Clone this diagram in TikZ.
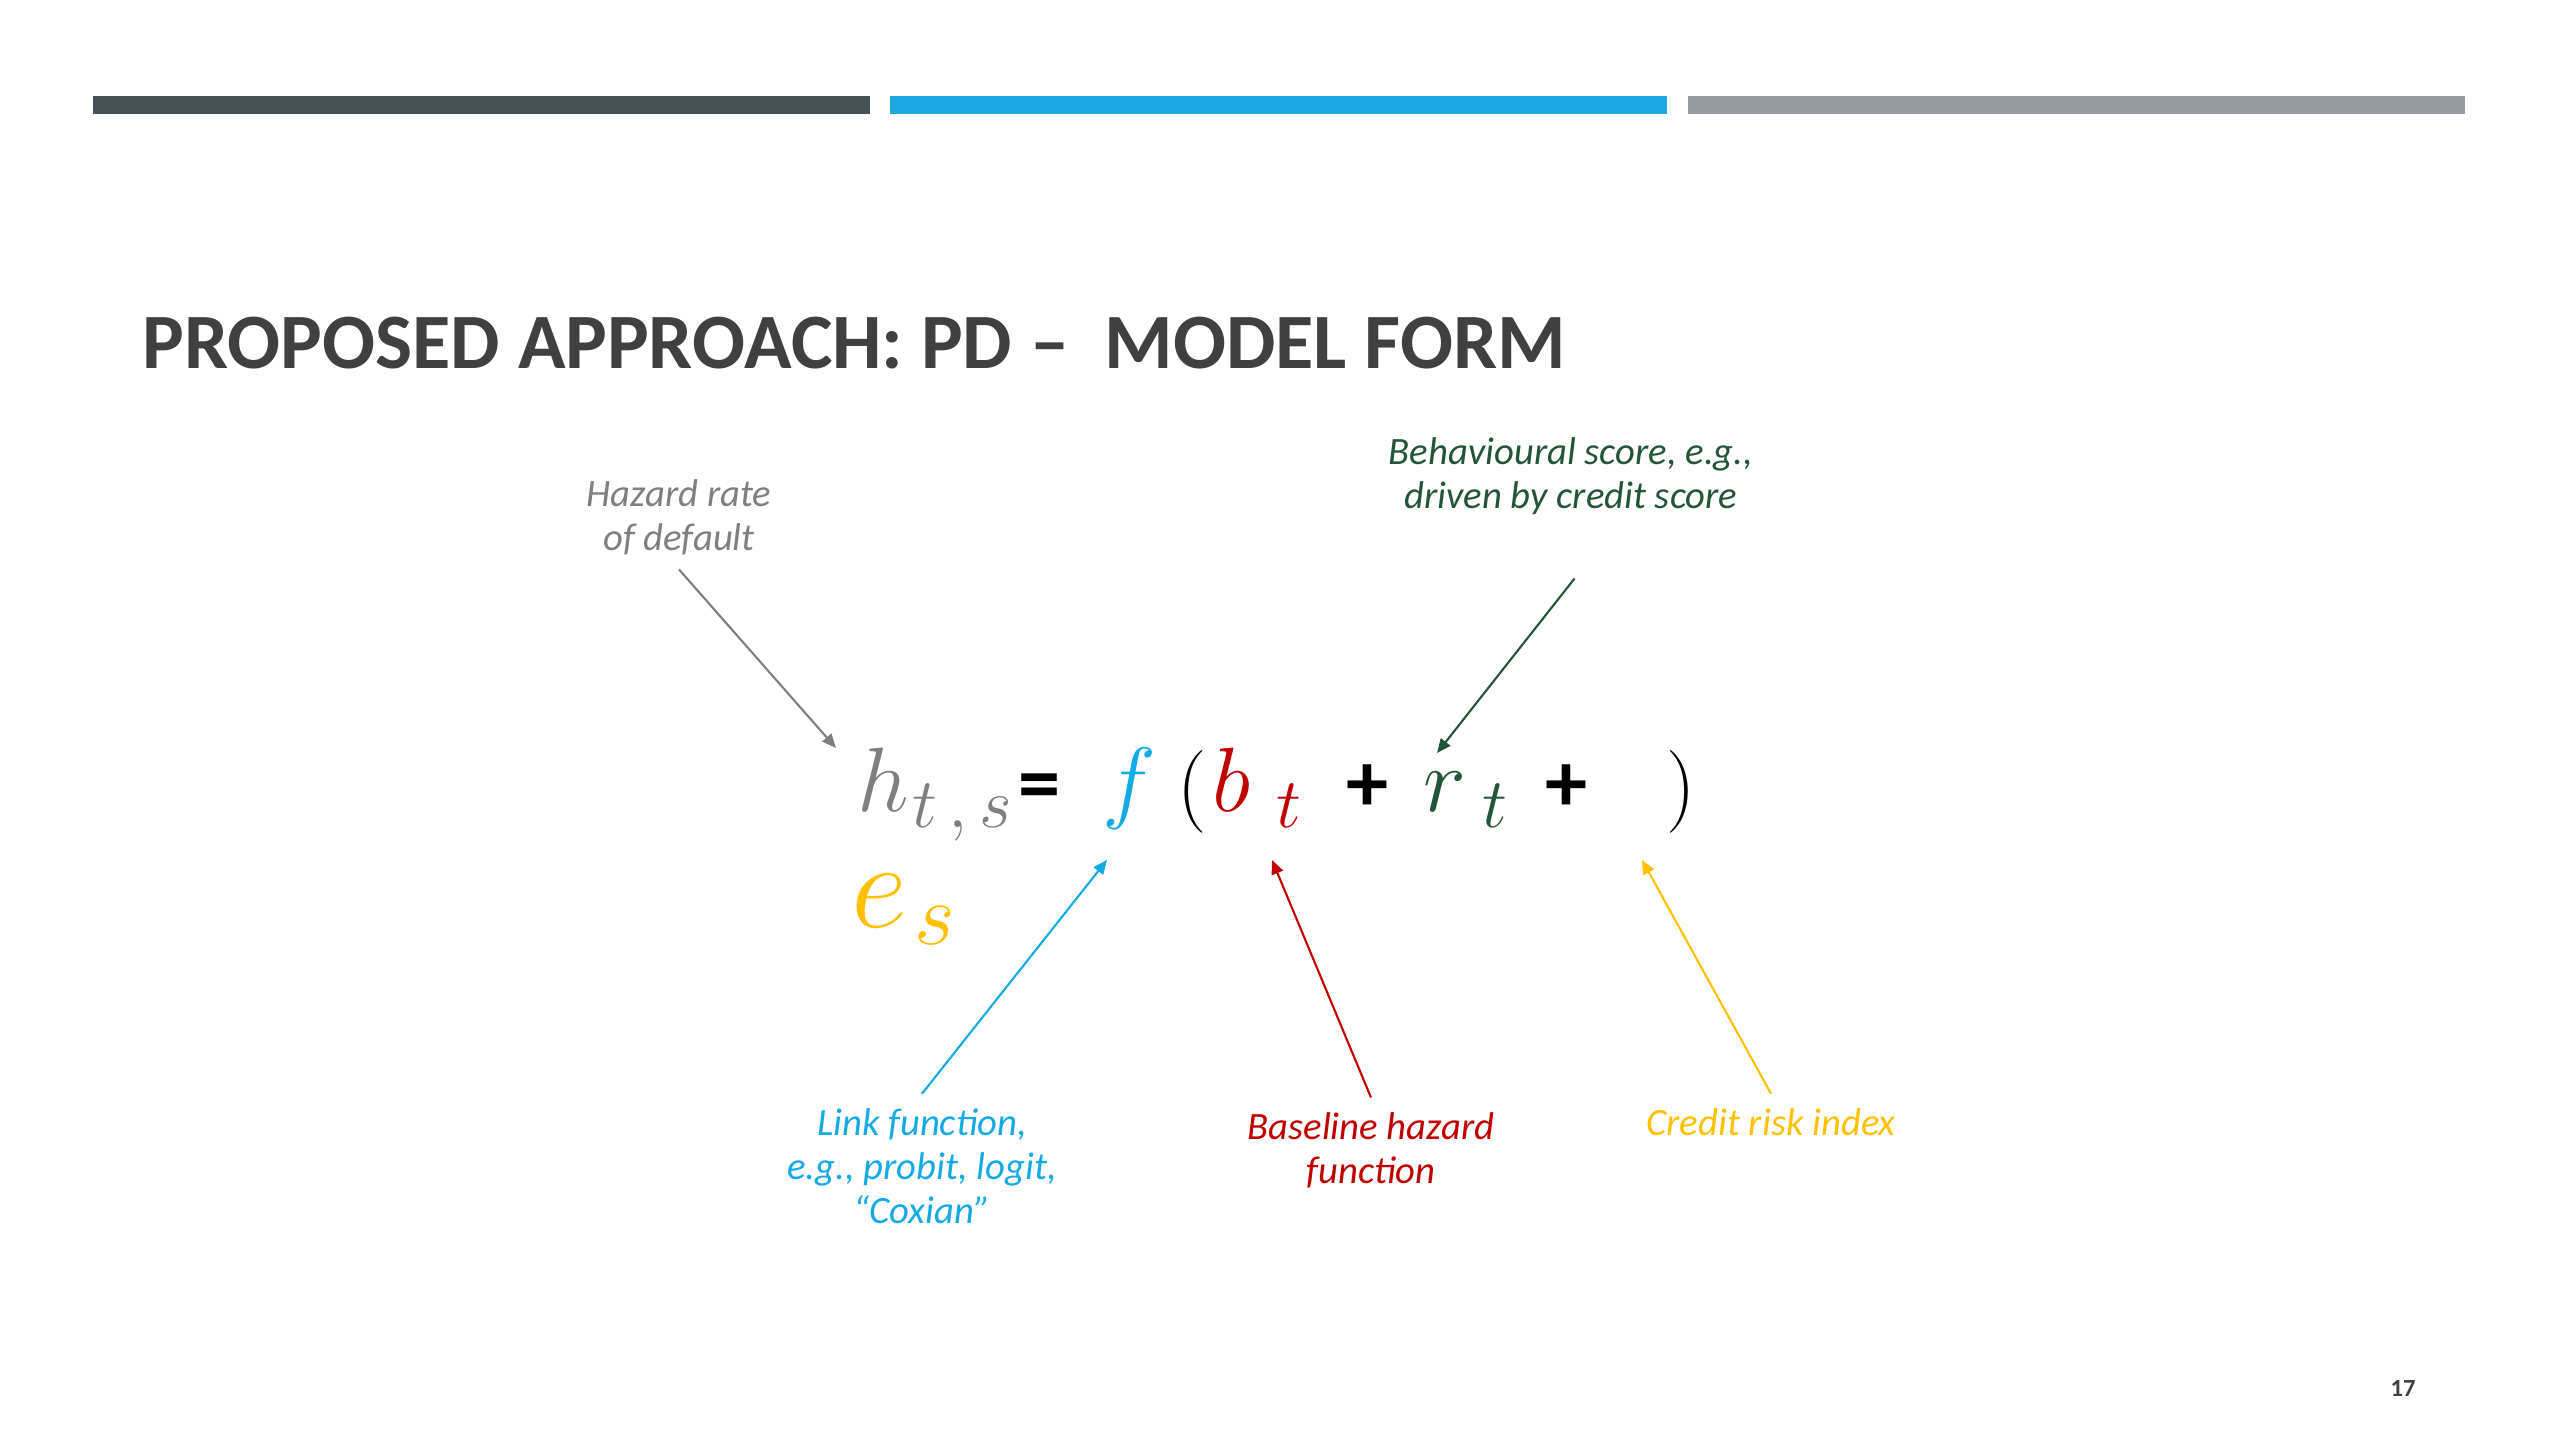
\documentclass[tikz,border=0pt]{standalone}
\usepackage{fix-cm}
\usepackage{fontspec}
\usepackage{tikz}
\usetikzlibrary{arrows.meta}
\newfontfamily\slidefont{Carlito}
\definecolor{cBarDark}{RGB}{69,82,86}
\definecolor{cBarBlue}{RGB}{28,169,225}
\definecolor{cBarGray}{RGB}{150,156,162}
\definecolor{cTitle}{RGB}{64,64,64}
\definecolor{cHazard}{RGB}{127,127,127}
\definecolor{cLink}{RGB}{20,170,230}
\definecolor{cBase}{RGB}{192,0,0}
\definecolor{cBehav}{RGB}{35,85,55}
\definecolor{cIndex}{RGB}{255,192,0}
\tikzset{
	slidetitle/.style={anchor=base west, inner sep=0pt, text=cTitle, font=\slidefont\bfseries\fontsize{22.3}{27}\selectfont},
	note/.style={align=center, inner sep=4pt, font=\slidefont\itshape\fontsize{11}{12.5}\selectfont},
	ptr/.style={-{Triangle[length=4pt, width=3.4pt]}, line width=0.6pt},
	pagenum/.style={inner sep=0pt, text=cTitle, font=\slidefont\bfseries\fontsize{7}{8}\selectfont},
	% formula pieces
	sym/.style={inner sep=0pt, anchor=base, font=\fontsize{26}{30}\selectfont},
	sub/.style={inner sep=0pt, anchor=base, font=\fontsize{20}{24}\selectfont},
	op/.style={inner sep=0pt, anchor=base, font=\slidefont\bfseries\fontsize{24}{28}\selectfont},
	paren/.style={inner sep=0pt, anchor=base, font=\fontsize{23.5}{28}\selectfont},
}
\begin{document}
\begin{tikzpicture}[x=0.01cm, y=-0.01cm]
	\useasboundingbox (0,0) rectangle (2560,1440);
	\fill[cBarDark] (93,96) rectangle (870,114);
	\fill[cBarBlue] (890,96) rectangle (1667,114);
	\fill[cBarGray] (1688,96) rectangle (2465,114);

	\node[slidetitle] (title) at (142,369) {PROPOSED APPROACH: PD – \ MODEL FORM};

	% the model
	\node[sym, text=cHazard] (hrate) at (883,811) {$h$};
	\node[sub, text=cHazard] (hsub) at (962,828) {$t\,{,}\,s$};
	\node[op] (equals) at (1040,811) {=};
	\node[sym, text=cLink] (link) at (1129,811) {$f$};
	\node[paren] (lpar) at (1192,813) {(};
	\node[sym, text=cBase] (base) at (1232,811) {$b$};
	\node[sub, text=cBase] (bsub) at (1289,828) {$t$};
	\node[op] (plusA) at (1368,811) {+};
	\node[sym, text=cBehav] (behav) at (1445,811) {$r$};
	\node[sub, text=cBehav] (rsub) at (1495,828) {$t$};
	\node[op] (plusB) at (1567,811) {+};
	\node[paren] (rpar) at (1681,813) {)};
	\node[sym, text=cIndex, font=\fontsize{35}{40}\selectfont] (index) at (879,927) {$e$};
	\node[sub, text=cIndex, font=\fontsize{25}{30}\selectfont] (esub) at (935,944) {$s$};

	% annotations
	\node[note, text=cHazard] (lblHazard) at (679,517) {Hazard rate\\of default};
	\node[note, text=cBehav] (lblBehav) at (1571,476) {Behavioural score, e.g.,\\driven by credit score};
	\node[note, text=cLink] (lblLink) at (922,1166) {Link function,\\e.g., probit, logit,\\“Coxian”};
	\node[note, text=cBase] (lblBase) at (1371,1150) {Baseline hazard\\function};
	\node[note, text=cIndex] (lblIndex) at (1771,1122) {Credit risk index};

	\coordinate (tipHazard) at (836,748);
	\coordinate (tipBehav) at (1437,753);
	\coordinate (tipLink) at (1107,860);
	\coordinate (tipBase) at (1272,860);
	\coordinate (tipIndex) at (1642,860);

	\draw[ptr, cHazard] (lblHazard.south) -- (tipHazard);
	\draw[ptr, cBehav] ([xshift=1pt, yshift=-14pt]lblBehav.south) -- (tipBehav);
	\draw[ptr, cLink] (lblLink.north) -- (tipLink);
	\draw[ptr, cBase] (lblBase.north) -- (tipBase);
	\draw[ptr, cIndex] (lblIndex.north) -- (tipIndex);

	\node[pagenum] (pnum) at (2403,1388) {17};
\end{tikzpicture}
\end{document}
